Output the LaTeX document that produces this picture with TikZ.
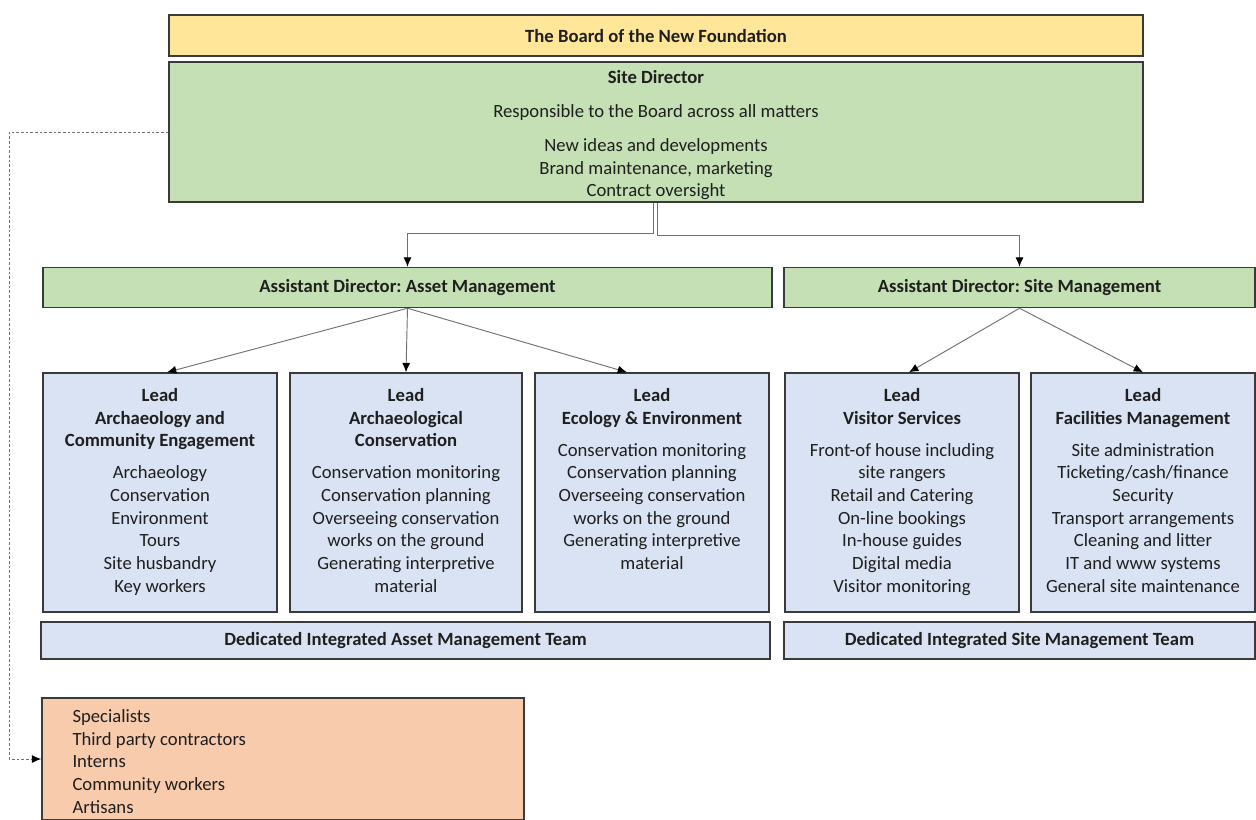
\documentclass[tikz,border=0pt]{standalone}
\usepackage{fontspec}
\setmainfont{Carlito}
\frenchspacing
\usepackage{xcolor}
\usepackage{tikz}
\usetikzlibrary{arrows.meta, positioning, calc}

\definecolor{boardyellow}{HTML}{FFE699}
\definecolor{dirgreen}{HTML}{C5E0B4}
\definecolor{leadblue}{HTML}{DAE3F3}
\definecolor{extorange}{HTML}{F8CBAD}
\definecolor{edgegray}{HTML}{3A3A3A}
\definecolor{wiregray}{HTML}{707070}

\begin{document}
\begin{tikzpicture}[x=0.75pt, y=-0.75pt, >={Latex[length=7pt, width=6pt, color=black]},
        every node/.style={font=\fontsize{14}{17}\selectfont, text=black!88},
        box/.style={rectangle, draw=edgegray, line width=1.1pt, inner sep=0pt},
        leadbox/.style={box, fill=leadblue, minimum height=179.25pt},
        txt/.style={inner sep=0pt, align=center},
        link/.style={->, draw=wiregray, line width=0.7pt},
        extlink/.style={link, dash pattern=on 2pt off 1.5pt}]
        \useasboundingbox (0,0) rectangle (1256,819);
        \clip (0,0) rectangle (1256,819);

        \node (board) [box, fill=boardyellow, minimum width=730.5pt, minimum height=30.75pt] at (656,35.5) {\textbf{The Board of the New Foundation}};
        \node (sd) [box, fill=dirgreen, minimum width=730.5pt, minimum height=105pt] at (656,132) {};
        \node (sdtext) [txt, below=6.75pt of sd.north] {\textbf{Site Director}\\[8.5pt] Responsible to the Board across all matters\\[8.5pt] New ideas and developments\\ Brand maintenance, marketing\\ Contract oversight};

        \node (asset) [box, fill=dirgreen, minimum width=546.75pt, minimum height=30pt] at (407.5,287.5) {\textbf{Assistant Director: Asset Management}};
        \node (site) [box, fill=dirgreen, minimum width=353.25pt, minimum height=30pt] at (1019.5,287.5) {\textbf{Assistant Director: Site Management}};

        \node (arch) [leadbox, minimum width=175.5pt] at (160,492.5) {};
        \node (cons) [leadbox, minimum width=174pt] at (406,492.5) {};
        \node (eco) [leadbox, minimum width=175.5pt] at (652,492.5) {};
        \node (visit) [leadbox, minimum width=175.5pt] at (902,492.5) {};
        \node (facil) [leadbox, minimum width=168pt] at (1143,492.5) {};

        \node (archtext) [txt, below=12pt of arch.north] {\textbf{Lead}\\ \textbf{Archaeology and}\\ \textbf{Community Engagement}\\[7pt] Archaeology\\ Conservation\\ Environment\\ Tours\\ Site husbandry\\ Key workers};
        \node (constext) [txt, below=12pt of cons.north] {\textbf{Lead}\\ \textbf{Archaeological}\\ \textbf{Conservation}\\[7pt] Conservation monitoring\\ Conservation planning\\ Overseeing conservation\\ works on the ground\\ Generating interpretive\\ material};
        \node (ecotext) [txt, below=12pt of eco.north] {\textbf{Lead}\\ \textbf{Ecology \& Environment}\\[7pt] Conservation monitoring\\ Conservation planning\\ Overseeing conservation\\ works on the ground\\ Generating interpretive\\ material};
        \node (visittext) [txt, below=12pt of visit.north] {\textbf{Lead}\\ \textbf{Visitor Services}\\[7pt] Front-of house including\\ site rangers\\ Retail and Catering\\ On-line bookings\\ In-house guides\\ Digital media\\ Visitor monitoring};
        \node (faciltext) [txt, below=12pt of facil.north] {\textbf{Lead}\\ \textbf{Facilities Management}\\[7pt] Site administration\\ Ticketing/cash/finance\\ Security\\ Transport arrangements\\ Cleaning and litter\\ IT and www systems\\ General site maintenance};

        \node (assetteam) [box, fill=leadblue, minimum width=546.75pt, minimum height=27.75pt] at (405.5,640.5) {\textbf{Dedicated Integrated Asset Management Team}};
        \node (siteteam) [box, fill=leadblue, minimum width=353.25pt, minimum height=27.75pt] at (1019.5,640.5) {\textbf{Dedicated Integrated Site Management Team}};

        \node (ext) [box, fill=extorange, minimum width=361.5pt, minimum height=91.5pt] at (283,759) {};
        \node (exttext) [inner sep=0pt, align=left, below right=9pt and 23.25pt of ext.north west] {Specialists\\ Third party contractors\\ Interns\\ Community workers\\ Artisans};

        \draw[link] ($(sd.south)+(-3,0)$) -- ++(0,31) -| (asset.north);
        \draw[link] ($(sd.south)+(1,0)$) -- ++(0,33) -| (site.north);
        \draw[link] (asset.south) -- ($(arch.north)+(7,0)$);
        \draw[link] (asset.south) -- (cons.north);
        \draw[link] (asset.south) -- ($(eco.north)+(-25,0)$);
        \draw[link] (site.south) -- ($(visit.north)+(7,0)$);
        \draw[link] (site.south) -- (facil.north);
        \draw[extlink] (sd.west) -- ++(-159,0) |- (ext.west);
\end{tikzpicture}
\end{document}
